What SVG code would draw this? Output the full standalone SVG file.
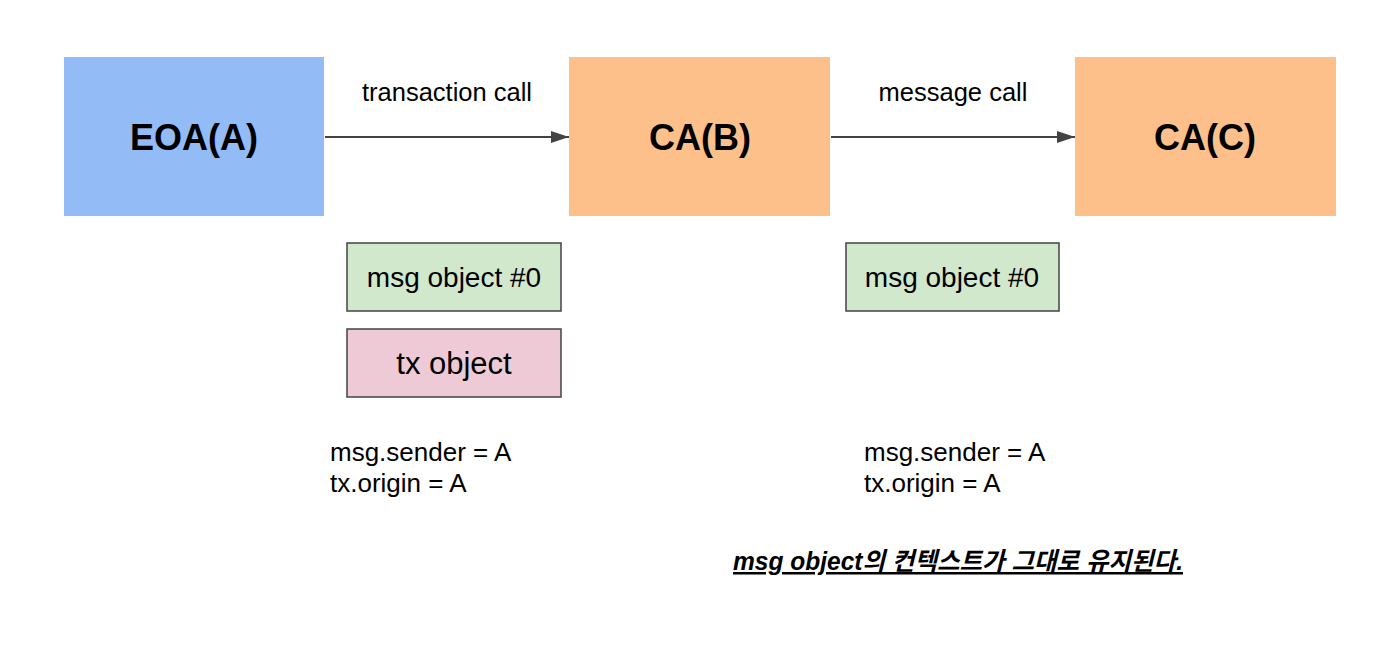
<svg xmlns="http://www.w3.org/2000/svg" width="1400" height="656" viewBox="0 0 1400 656">
<style>
text{font-family:"Liberation Sans","Noto Sans CJK KR",Arial,sans-serif;fill:#000}
.big{font-size:36px;font-weight:bold;text-anchor:middle}
.lbl{font-size:25.5px;text-anchor:middle}
.obj{font-size:28px;text-anchor:middle}
.note{font-size:26px}
.msg{fill:#d2e8cd;stroke:#434343;stroke-width:1.5}
.tx{fill:#eecad6;stroke:#434343;stroke-width:1.5}
.conn{stroke:#434343;stroke-width:2;fill:none}
</style>
<defs>
<marker id="arr" markerWidth="18" markerHeight="12" refX="18" refY="6" orient="auto" markerUnits="userSpaceOnUse" viewBox="0 0 18 12">
<path d="M0,0 L18,6 L0,12 z" fill="#434343"/>
</marker>
</defs>
<rect width="1400" height="656" fill="#fff"/>
<g id="eoa">
<rect x="64" y="57" width="260" height="159" fill="#93bbf6"/>
<text class="big" x="194" y="150">EOA(A)</text>
</g>
<g id="cab">
<rect x="569" y="57" width="261" height="159" fill="#fdc08b"/>
<text class="big" x="700" y="150">CA(B)</text>
</g>
<g id="cac">
<rect x="1075" y="57" width="261" height="159" fill="#fdc08b"/>
<text class="big" x="1205" y="150">CA(C)</text>
</g>
<g id="connectors">
<line class="conn" x1="325" y1="137" x2="569" y2="137" marker-end="url(#arr)"/>
<line class="conn" x1="831" y1="137" x2="1075" y2="137" marker-end="url(#arr)"/>
<text class="lbl" x="447" y="101">transaction call</text>
<text class="lbl" x="953" y="101">message call</text>
</g>
<g id="msg1">
<rect class="msg" x="347" y="243" width="214" height="68"/>
<text class="obj" x="454" y="287">msg object #0</text>
</g>
<g id="tx1">
<rect class="tx" x="347" y="329" width="214" height="68"/>
<text class="obj" x="454" y="374" style="font-size:31px">tx object</text>
</g>
<g id="msg2">
<rect class="msg" x="846" y="243" width="213" height="68"/>
<text class="obj" x="952" y="287">msg object #0</text>
</g>
<g id="note1">
<text class="note" x="330" y="461">msg.sender = A</text>
<text class="note" x="330" y="492">tx.origin = A</text>
</g>
<g id="note2">
<text class="note" x="864" y="461">msg.sender = A</text>
<text class="note" x="864" y="492">tx.origin = A</text>
</g>
<g id="footer">
<text x="733" y="570" textLength="450" lengthAdjust="spacingAndGlyphs" style="font-size:25px;font-weight:bold;font-style:italic;text-decoration:underline">msg object의 컨텍스트가 그대로 유지된다.</text>
</g>
</svg>
